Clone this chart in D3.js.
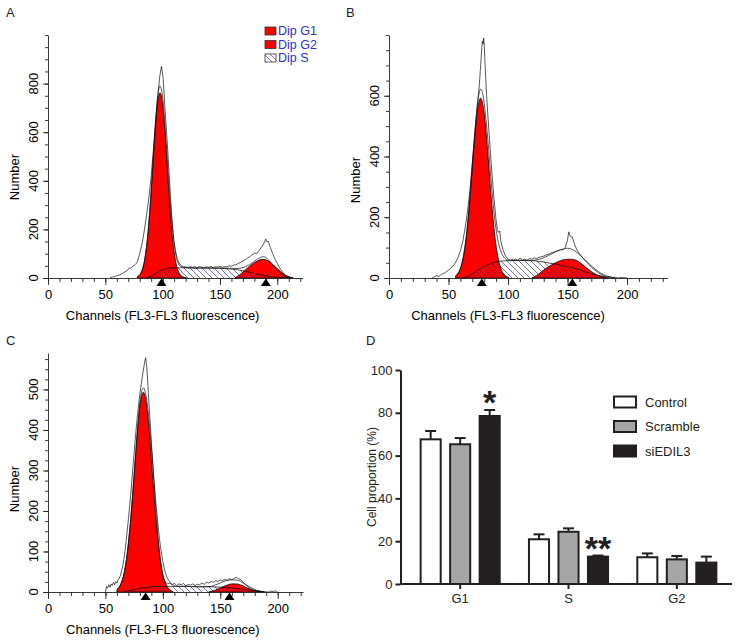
<!DOCTYPE html>
<html><head><meta charset="utf-8">
<script src="https://cdn.jsdelivr.net/npm/d3@7"></script>
<style>body{margin:0;background:#fff}svg{display:block}text{font-family:"Liberation Sans",Arial,sans-serif}</style>
</head><body><svg id="c" width="737" height="640"></svg>
<script>
// ---------- Panel A (channel, count) ----------
const aRaw = [[54,0],[56,4],[58,6],[60,10],[62,12],[64,16],[66,22],[68,28],[70,35],[71,42],[72,40],[74,48],[76,55],[77,60],[78,68],[79,85],[80,100],[82,140],[84,195],[86,260],[88,330],[90,420],[92,530],[94,650],[96,760],[97.5,830],[99,871],[100.5,820],[102,700],[104,560],[106,400],[108,250],[110,140],[112,80],[114,55],[116,48],[118,44],[120,46],[122,43],[124,47],[126,44],[128,46],[130,43],[132,47],[134,45],[136,42],[138,46],[140,44],[142,47],[144,43],[146,46],[148,45],[150,48],[152,44],[154,47],[156,46],[158,50],[160,48],[162,53],[164,55],[166,60],[168,64],[170,70],[172,75],[174,82],[176,88],[178,95],[180,102],[182,100],[184,112],[186,125],[188,140],[190,160],[191,148],[192,152],[194,125],[196,100],[198,78],[200,60],[202,42],[204,28],[206,16],[208,8],[210,3],[212,0]];
const aFit = [[78,5],[81,20],[84,66],[87,175],[90,362],[92,514],[94,658],[96,760],[97.7,790],[99.5,762],[101.5,668],[103.5,530],[106,352],[109,187],[112,95],[115,58],[118,46],[121,42],[130,41],[140,41],[150,41],[158,40],[165,39],[170,43],[174,50],[178,62],[182,76],[185,84],[188,88],[191,81],[194,66],[198,42],[202,20],[206,8],[210,2],[213,0]];
const aG1 = [[78,5],[81,20],[84,66],[87,172],[90,352],[92,499],[94,638],[96,734],[97.7,762],[99.5,731],[101.5,632],[103.5,492],[106,311],[109,145],[112,53],[115,16],[118,4],[121,0]];
const aG2 = [[163,0],[167,12],[171,28],[175,45],[179,60],[183,71],[187,77],[191,73],[195,60],[199,43],[203,26],[207,12],[211,4],[214,0]];
const aS = [[86,0],[90,8],[94,20],[98,30],[102,37],[106,41],[110,42],[120,42],[130,41],[140,41],[150,40],[158,38],[165,34],[172,28],[180,19],[188,11],[196,5],[204,1],[210,0]];
const aMarkers = [99, 190];

// ---------- Panel B ----------
const bRaw = [[36,0],[38,4],[40,8],[42,5],[44,12],[46,15],[48,20],[50,26],[52,32],[54,40],[56,52],[58,68],[60,90],[62,120],[64,165],[66,220],[68,290],[70,380],[72,470],[74,560],[76,640],[77,700],[78,760],[78.5,780],[79,770],[79.5,790],[80,770],[81,680],[82,600],[84,480],[86,370],[88,270],[90,190],[91,160],[92,150],[93,155],[94,120],[96,90],[98,72],[100,62],[102,58],[104,62],[105,57],[106,64],[108,58],[110,66],[112,60],[114,62],[116,58],[118,64],[120,62],[122,66],[124,64],[126,68],[128,70],[130,72],[132,76],[134,78],[136,82],[138,85],[140,88],[142,90],[144,94],[146,92],[148,100],[150,125],[151,152],[152,140],[153,135],[154,135],[156,110],[158,92],[160,80],[162,70],[164,60],[166,52],[168,44],[170,36],[172,29],[174,23],[176,17],[178,12],[180,8],[182,5],[184,3],[186,4],[188,1],[190,3],[192,0],[196,2],[200,0]];
const bFit = [[56,7],[59,22],[62,60],[65,140],[68,268],[71,424],[73,522],[75,592],[77,622],[79,602],[81,540],[83,458],[86,310],[89,188],[92,115],[95,78],[98,63],[101,58],[110,58],[120,58],[128,64],[134,74],[140,86],[146,95],[150,98],[154,94],[158,84],[162,70],[166,55],[170,40],[174,27],[178,16],[182,8],[186,3],[190,0]];
const bG1 = [[56,7],[59,22],[62,60],[65,136],[68,259],[71,410],[73,503],[75,568],[77,592],[79,568],[81,503],[83,410],[86,259],[89,136],[92,60],[95,22],[98,7],[101,0]];
const bG2 = [[120,0],[124,8],[128,20],[132,32],[136,42],[140,50],[144,57],[148,61],[152,62],[156,60],[160,52],[164,40],[168,27],[172,16],[176,8],[180,3],[183,0]];
const bS = [[62,0],[66,5],[70,14],[75,27],[80,38],[85,47],[90,53],[95,56],[100,57],[110,58],[120,57],[128,54],[135,49],[142,44],[150,38],[158,30],[165,21],[172,12],[180,5],[186,1],[190,0]];
const bMarkers = [78, 154];

// ---------- Panel C ----------
const cRaw = [[50,0],[51,14],[52,10],[53,18],[54,12],[55,20],[56,16],[57,24],[58,18],[59,26],[60,22],[61,30],[62,34],[63,40],[64,52],[65,62],[66,80],[67,100],[68,125],[70,180],[72,240],[74,310],[76,380],[78,440],[80,490],[82,530],[84,565],[85,578],[86,555],[87,510],[88,460],[90,370],[92,280],[94,200],[96,130],[98,75],[100,40],[102,24],[104,20],[106,22],[108,18],[110,22],[112,16],[114,20],[116,18],[118,21],[120,15],[122,19],[124,17],[126,20],[128,16],[130,19],[132,18],[134,22],[136,19],[138,24],[140,22],[142,26],[144,24],[146,28],[148,26],[150,30],[152,28],[154,31],[156,29],[158,33],[160,30],[162,34],[164,36],[166,33],[168,30],[170,24],[172,18],[174,13],[176,9],[178,6],[180,4],[182,2],[184,3],[186,1],[188,0],[192,0],[194,2],[196,1],[198,3],[200,0]];
const cFit = [[60,6],[63,17],[66,43],[69,97],[72,182],[75,293],[78,407],[80.5,478],[83,504],[85.5,482],[88,422],[91,323],[94,218],[97,133],[100,75],[103,41],[106,25],[109,17],[112,14],[120,14],[130,13],[140,13],[148,20],[155,28],[160,30],[165,29],[170,22],[176,12],[182,4],[188,0]];
const cG1 = [[60,6],[63,17],[66,43],[69,95],[72,178],[75,287],[78,399],[80.5,468],[83,493],[85.5,468],[88,399],[91,287],[94,178],[97,95],[100,43],[103,17],[106,6],[109,0]];
const cG2 = [[140,0],[145,4],[150,10],[155,16],[160,20],[164,20],[168,17],[172,12],[176,7],[180,3],[185,1],[188,0]];
const cS = [[66,0],[72,4],[78,8],[84,11],[90,13],[100,14],[110,14],[120,14],[130,13],[140,13],[150,12],[160,10],[170,7],[178,4],[185,1],[190,0]];
const cMarkers = [85, 158];

const histXTicks = [0, 50, 100, 150, 200];
const aYTicks = [0, 200, 400, 600, 800];
const bYTicks = [0, 200, 400, 600];
const cYTicks = [0, 100, 200, 300, 400, 500];
const legendA = ["Dip G1", "Dip G2", "Dip S"];

// ---------- Panel D ----------
const phases = ["G1", "S", "G2"];
const groups = ["Control", "Scramble", "siEDIL3"];
const controlVals = [67.6, 20.9, 12.5];
const scrambleVals = [65.3, 24.4, 11.5];
const siVals = [78.5, 12.8, 10.0];
const controlErr = [3.9, 2.3, 1.8];
const scrambleErr = [2.9, 1.6, 1.6];
const siErr = [2.8, 0.5, 2.8];
const siStars = ["*", "**", ""];
const dYTicks = [0, 20, 40, 60, 80, 100];

const svg = d3.select("#c");
const defs = svg.append("defs");
const pat = defs.append("pattern").attr("id","hatch").attr("patternUnits","userSpaceOnUse").attr("width",6).attr("height",6);
pat.append("path").attr("d","M0,0L6,6M-1,5L1,7M5,-1L7,1").attr("stroke","#22226e").attr("stroke-width",0.8).attr("stroke-opacity",0.8);

function hist(cfg){
  const g = svg.append("g");
  const x = d3.scaleLinear().domain([0,cfg.xmax]).range([cfg.left,cfg.right]);
  const y = d3.scaleLinear().domain([0,cfg.ymax]).range([cfg.bottom,cfg.top]);
  const area = d3.area().x(d=>x(d[0])).y0(y(0)).y1(d=>y(d[1])).curve(d3.curveMonotoneX);
  const sm = d3.line().x(d=>x(d[0])).y(d=>y(d[1])).curve(d3.curveMonotoneX);
  const lin = d3.line().x(d=>x(d[0])).y(d=>y(d[1]));
  g.append("path").attr("d",area(cfg.s)).attr("fill","#fff");
  [cfg.g1,cfg.g2].forEach(dd=>g.append("path").attr("d",area(dd)).attr("fill","#ff0000").attr("stroke","#000").attr("stroke-width",0.8));
  g.append("path").attr("d",area(cfg.s)).attr("fill","url(#hatch)");
  g.append("path").attr("d",sm(cfg.s)).attr("fill","none").attr("stroke","#000").attr("stroke-width",0.7);
  g.append("path").attr("d",sm(cfg.fit)).attr("fill","none").attr("stroke","#111").attr("stroke-width",0.7);
  g.append("path").attr("d",lin(cfg.raw)).attr("fill","none").attr("stroke","#111").attr("stroke-width",0.7);
  // x axis
  const xMinor = g.append("g").attr("transform",`translate(0,${cfg.bottom})`)
    .call(d3.axisBottom(x).tickValues(d3.range(0,cfg.xmax+0.1,10)).tickSize(4).tickFormat(""));
  xMinor.select(".domain").remove();
  const xa = g.append("g").attr("transform",`translate(0,${cfg.bottom})`)
    .call(d3.axisBottom(x).tickValues(histXTicks).tickSize(7).tickSizeOuter(0).tickPadding(4.5));
  xa.selectAll("text").attr("font-size",13).attr("fill","#000").attr("font-family","Liberation Sans, Arial, sans-serif");
  // y axis
  const yMinor = g.append("g").attr("transform",`translate(${cfg.left},0)`)
    .call(d3.axisLeft(y).tickValues(d3.range(0,cfg.ymax+0.1,cfg.yminor)).tickSize(3).tickFormat(""));
  yMinor.select(".domain").remove();
  const ya = g.append("g").attr("transform",`translate(${cfg.left},0)`)
    .call(d3.axisLeft(y).tickValues(cfg.yticks).tickSize(5).tickSizeOuter(0).tickFormat(""));
  g.selectAll(".tick line, .domain").attr("stroke","#222").attr("stroke-width",0.9);
  g.selectAll(".yl").data(cfg.yticks).join("text").attr("class","yl")
    .attr("transform",d=>`translate(${cfg.left-15},${y(d)}) rotate(-90)`)
    .attr("text-anchor","middle").attr("dominant-baseline","central").attr("font-size",13).text(d=>d);
  // markers
  g.selectAll(".mk").data(cfg.markers).join("path").attr("class","mk")
    .attr("d",d=>`M${x(d)},${y(0)+0.5}L${x(d)-5},${y(0)+8}L${x(d)+5},${y(0)+8}Z`).attr("fill","#000");
  g.append("text").attr("transform",`translate(${cfg.left-34},${cfg.nameY}) rotate(-90)`)
    .attr("text-anchor","middle").attr("dominant-baseline","central").attr("font-size",13).text("Number");
  g.append("text").attr("x",(x(0)+x(200))/2).attr("y",cfg.bottom+37).attr("text-anchor","middle")
    .attr("dominant-baseline","central").attr("font-size",13).text("Channels (FL3-FL3 fluorescence)");
  g.append("text").attr("x",cfg.labX).attr("y",cfg.labY).attr("font-size",13).attr("fill","#222").text(cfg.label);
}

hist({left:48,right:302.5,top:35,bottom:278,xmax:222,ymax:1000,yminor:50,yticks:aYTicks,raw:aRaw,fit:aFit,g1:aG1,g2:aG2,s:aS,markers:aMarkers,nameY:177,label:"A",labX:6,labY:17});
hist({left:389,right:667.5,top:35,bottom:278,xmax:234,ymax:800,yminor:50,yticks:bYTicks,raw:bRaw,fit:bFit,g1:bG1,g2:bG2,s:bS,markers:bMarkers,nameY:180,label:"B",labX:346,labY:17});
hist({left:48,right:303,top:353,bottom:592,xmax:222,ymax:590,yminor:25,yticks:cYTicks,raw:cRaw,fit:cFit,g1:cG1,g2:cG2,s:cS,markers:cMarkers,nameY:489,label:"C",labX:6,labY:345});

// legend A
const lg = svg.append("g");
legendA.forEach((t,i)=>{
  const yy = 31 + i*13.5;
  lg.append("rect").attr("x",265).attr("y",yy-4).attr("width",11).attr("height",8)
    .attr("fill", i<2 ? "#ff0000" : "url(#hatch)").attr("stroke","#333").attr("stroke-width",0.8);
  lg.append("text").attr("x",278).attr("y",yy).attr("dominant-baseline","central").attr("font-size",12.5).attr("fill","#2f2fd2").text(t);
});

// ---------- Panel D ----------
const dg = svg.append("g");
const yD = d3.scaleLinear().domain([0,100]).range([584,370]);
const x0 = d3.scaleBand().domain(phases).range([406,731]).paddingInner(0.27).paddingOuter(0.135);
const x1 = d3.scaleBand().domain(groups).range([0,x0.bandwidth()]).paddingInner(0.32);
const fills = {"Control":"#ffffff","Scramble":"#a6a6a6","siEDIL3":"#231f20"};
const vals = {"Control":controlVals,"Scramble":scrambleVals,"siEDIL3":siVals};
const errs = {"Control":controlErr,"Scramble":scrambleErr,"siEDIL3":siErr};
const ink = "#231f20";
groups.forEach(gr=>{
  phases.forEach((p,i)=>{
    const bx = x0(p)+x1(gr), bw = x1.bandwidth(), v = vals[gr][i], e = errs[gr][i];
    const cx = bx + bw/2;
    dg.append("line").attr("x1",cx).attr("x2",cx).attr("y1",yD(v)).attr("y2",yD(v+e)).attr("stroke",ink).attr("stroke-width",2);
    dg.append("line").attr("x1",cx-5.5).attr("x2",cx+5.5).attr("y1",yD(v+e)).attr("y2",yD(v+e)).attr("stroke",ink).attr("stroke-width",2);
    dg.append("rect").attr("x",bx).attr("y",yD(v)).attr("width",bw).attr("height",yD(0)-yD(v))
      .attr("fill",fills[gr]).attr("stroke",ink).attr("stroke-width",2);
    if(gr==="siEDIL3" && siStars[i]){
      dg.append("text").attr("x",cx).attr("y",yD(v+e)+4).attr("text-anchor","middle")
        .attr("font-size",34).attr("font-weight","bold").attr("fill",ink).text(siStars[i]);
    }
  });
});
const yAx = dg.append("g").attr("transform","translate(400.5,0)").call(d3.axisLeft(yD).tickValues(dYTicks).tickSize(5).tickSizeOuter(0).tickPadding(3));
yAx.selectAll("text").attr("font-size",13).attr("fill",ink).attr("font-family","Liberation Sans, Arial, sans-serif");
const xAx = dg.append("g").attr("transform","translate(0,584)").call(d3.axisBottom(x0).tickSize(5).tickSizeOuter(0).tickPadding(5));
xAx.select(".domain").attr("d","M400.5,0H732");
xAx.selectAll("text").attr("font-size",13).attr("fill",ink).attr("font-family","Liberation Sans, Arial, sans-serif");
dg.selectAll(".domain, .tick line").attr("stroke",ink).attr("stroke-width",2);
dg.append("text").attr("transform","translate(372,477) rotate(-90)").attr("text-anchor","middle")
  .attr("dominant-baseline","central").attr("font-size",12).attr("fill",ink).text("Cell proportion (%)");
dg.append("text").attr("x",366).attr("y",345).attr("font-size",13).attr("fill","#222").text("D");
groups.forEach((gr,i)=>{
  const yy = 402 + i*24.5;
  dg.append("rect").attr("x",614).attr("y",yy-5.5).attr("width",22).attr("height",11)
    .attr("fill",fills[gr]).attr("stroke",ink).attr("stroke-width",2);
  dg.append("text").attr("x",645).attr("y",yy).attr("dominant-baseline","central").attr("font-size",13).attr("fill",ink).text(gr);
});
</script></body></html>
